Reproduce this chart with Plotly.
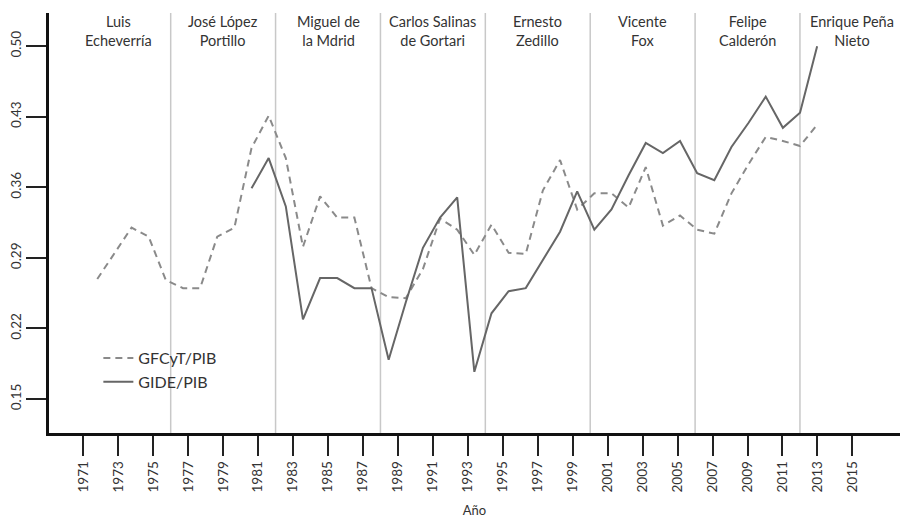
import plotly.graph_objects as go

# ---- data ----
years_gfcyt = list(range(1971, 2014))
gfcyt = [0.269, 0.295, 0.320, 0.311, 0.268, 0.260, 0.260, 0.311, 0.320, 0.399,
         0.431, 0.389, 0.301, 0.351, 0.330, 0.330, 0.260, 0.251, 0.250, 0.279,
         0.329, 0.318, 0.293, 0.323, 0.295, 0.294, 0.357, 0.387, 0.338, 0.354,
         0.354, 0.340, 0.380, 0.322, 0.332, 0.318, 0.314, 0.354, 0.383, 0.410,
         0.406, 0.401, 0.422]

years_gide = list(range(1980, 2014))
gide = [0.359, 0.389, 0.341, 0.229, 0.270, 0.270, 0.260, 0.260, 0.189, 0.246,
        0.300, 0.330, 0.350, 0.177, 0.235, 0.257, 0.260, 0.288, 0.316, 0.356,
        0.318, 0.338, 0.372, 0.404, 0.394, 0.406, 0.374, 0.367, 0.400, 0.424,
        0.450, 0.419, 0.434, 0.500]

x_ticks = list(range(1971, 2016, 2))
x_ticklabels = [str(v) for v in x_ticks]
y_ticks = [0.15, 0.22, 0.29, 0.36, 0.43, 0.50]
y_ticklabels = ["0.15", "0.22", "0.29", "0.36", "0.43", "0.50"]

term_boundaries = [1976, 1982, 1988, 1994, 2000, 2006, 2012]
presidents = ["Luis<br>Echeverría", "José López<br>Portillo", "Miguel de<br>la Mdrid",
              "Carlos Salinas<br>de Gortari", "Ernesto<br>Zedillo", "Vicente<br>Fox",
              "Felipe<br>Calderón", "Enrique Peña<br>Nieto"]
president_centers = [1973, 1979, 1985, 1991, 1997, 2003, 2009, 2015]

FONT = "Lato"
TXT = "#333333"

fig = go.Figure()
fig.add_trace(go.Scatter(x=years_gfcyt, y=gfcyt, xaxis="x2", mode="lines",
                         name="GFCyT/PIB",
                         line=dict(color="#8a8a8a", width=2, dash="7px,5px")))
fig.add_trace(go.Scatter(x=years_gide, y=gide, xaxis="x2", mode="lines",
                         name="GIDE/PIB",
                         line=dict(color="#666666", width=2)))

for b in term_boundaries:
    fig.add_shape(type="line", xref="x", yref="paper", x0=b, x1=b, y0=0, y1=1,
                  line=dict(color="#c8c8c8", width=1.5), layer="below")

for name, c in zip(presidents, president_centers):
    fig.add_annotation(x=c, y=1.005, xref="x", yref="paper", text=name,
                       showarrow=False, yanchor="top", xanchor="center",
                       font=dict(family=FONT, size=14.5, color=TXT))

fig.update_layout(
    width=901, height=521,
    margin=dict(l=49, r=1, t=13, b=88),
    paper_bgcolor="white", plot_bgcolor="white",
    font=dict(family=FONT, color=TXT),
    showlegend=True,
    legend=dict(x=0.058, y=0.219, xanchor="left", yanchor="top",
                bgcolor="rgba(0,0,0,0)", font=dict(family=FONT, size=16, color=TXT)),
    xaxis=dict(range=[1969.038, 2017.723], tickvals=x_ticks, ticktext=x_ticklabels,
               tickangle=-90, ticks="outside", ticklen=20, tickwidth=2,
               tickcolor="#222222", showline=True, linecolor="#111111", linewidth=2.5,
               showgrid=False, zeroline=False, automargin=False,
               tickfont=dict(family=FONT, size=13.5, color=TXT),
               title=dict(text="Año", font=dict(family=FONT, size=13, color=TXT))),
    xaxis2=dict(range=[1968.184, 2017.834], overlaying="x", visible=False,
                showgrid=False, zeroline=False),
    yaxis=dict(range=[0.1163, 0.5329], tickvals=y_ticks, ticktext=y_ticklabels,
               tickangle=-90, ticks="outside", ticklen=20, tickwidth=2,
               tickcolor="#222222", showline=True, linecolor="#111111", linewidth=2.5,
               showgrid=False, zeroline=False, automargin=False,
               tickfont=dict(family=FONT, size=13.5, color=TXT)),
)

fig.write_html("out.html", config={"displayModeBar": False},
               post_script="document.body.style.margin='0';document.body.style.overflow='hidden';")
